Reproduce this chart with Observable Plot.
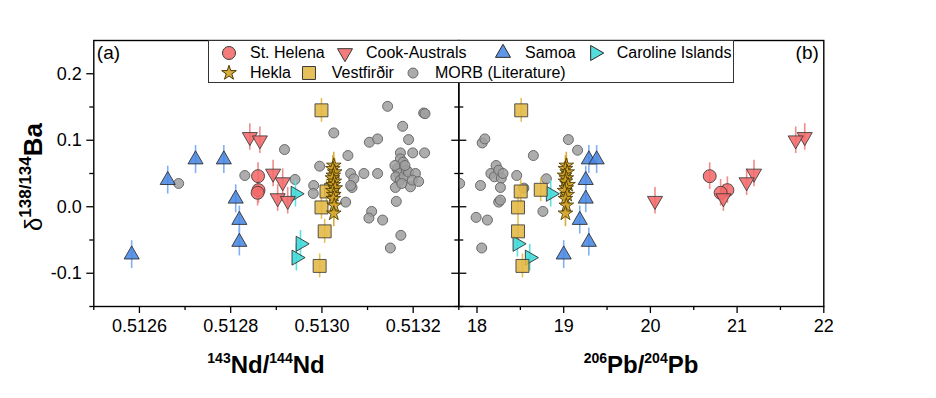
<!DOCTYPE html>
<html><head><meta charset="utf-8">
<script src="https://cdn.jsdelivr.net/npm/d3@7"></script>
<script src="https://cdn.jsdelivr.net/npm/@observablehq/plot@0.6"></script>
<style>
html,body{margin:0;padding:0;background:#fff;}
#wrap{position:relative;width:936px;height:398px;overflow:hidden;font-family:Arial,"Liberation Sans",sans-serif;color:#000;}
.abs{position:absolute;white-space:nowrap;}
.xt{font-weight:bold;font-size:24px;line-height:1;transform:translateX(-50%);}
.xt sup{font-size:14px;vertical-align:baseline;position:relative;top:-10px;}
.yt{line-height:1;transform:translate(-50%,-50%) rotate(-90deg);}
.yt .d{font-size:24px;}
.yt sup{font-size:17px;font-weight:bold;vertical-align:baseline;position:relative;top:-11px;}
.yt .b{font-size:26px;font-weight:bold;}
#legend{position:absolute;left:207.5px;top:39.5px;width:526px;height:43px;border:1px solid #333;background:#fff;box-sizing:border-box;}
.li{position:absolute;font-size:16px;line-height:20px;white-space:nowrap;}
.ls{position:absolute;overflow:visible;}
</style></head><body><div id="wrap"></div>
<script>
// ---------- data ----------
const yMajorTicks = [-0.1, 0, 0.1, 0.2];
const yMinorTicks = [-0.15, -0.05, 0.05, 0.15];
const ndMajorTicks = [0.5126, 0.5128, 0.5130, 0.5132];
const ndMinorTicks = [0.5125, 0.5127, 0.5129, 0.5131, 0.5133];
const pbMajorTicks = [18, 19, 20, 21, 22];
const pbMinorTicks = [18.5, 19.5, 20.5, 21.5];
const panelLabels = ["(a)", "(b)"];
const seriesNames = ["St. Helena", "Cook-Australs", "Samoa", "Caroline Islands", "Hekla", "Vestfirðir", "MORB (Literature)"];

const stHelenaBa = [0.046, 0.025, 0.021];
const stHelenaNd = [0.512860, 0.512861, 0.512859];
const stHelenaPb = [20.684, 20.888, 20.810];

const cookBa = [0.105, 0.100, 0.050, 0.037, 0.013, 0.009];
const cookNd = [0.512842, 0.512864, 0.512893, 0.512914, 0.512903, 0.512925];
const cookPb = [21.780, 21.676, 21.195, 21.110, 20.842, 20.053];

const samoaBa = [0.071, 0.071, 0.040, 0.012, -0.020, -0.053, -0.072];
const samoaNd = [0.512723, 0.512785, 0.512662, 0.512811, 0.512819, 0.512819, 0.512583];
const samoaPb = [19.290, 19.380, 19.254, 19.254, 19.185, 19.290, 19.000];

const carolineBa = [0.0195, -0.0557, -0.0765];
const carolineNd = [0.512942, 0.512953, 0.512944];
const carolinePb = [18.850, 18.466, 18.608];

const vestBa = [0.145, 0.0255, 0.023, -0.001, -0.037, -0.089];
const vestNd = [0.512999, 0.513020, 0.513010, 0.512999, 0.513006, 0.512995];
const vestPb = [18.510, 18.735, 18.504, 18.473, 18.473, 18.524];

const heklaBa = [0.062, 0.057, 0.052, 0.047, 0.043, 0.038, 0.033, 0.028, 0.024, 0.018, 0.012, 0.002, -0.010];
const heklaNd = [0.513026, 0.513024, 0.513028, 0.513025, 0.513023, 0.513027, 0.513025, 0.513029, 0.513024, 0.513026, 0.513025, 0.513027, 0.513026];
const heklaPb = [19.03, 19.02, 19.04, 19.01, 19.03, 19.02, 19.05, 19.03, 19.01, 19.04, 19.02, 19.03, 19.02];

const morbNd = [0.512686,0.512831,0.512918,0.512941,0.512982,0.512981,0.512995,0.513026,0.513052,0.513057,0.513063,0.513070,0.513066,0.513063,0.513092,0.513104,0.513122,0.513122,0.513109,0.513103,0.513133,0.513144,0.513150,0.513161,0.513163,0.513173,0.513172,0.513177,0.513190,0.513199,0.513225,0.513223,0.513226,0.513172,0.513178,0.513165,0.513168,0.513162,0.513172,0.513180,0.513185,0.513190,0.513205,0.513194,0.513175,0.513160,0.513182,0.513198,0.513212];
const morbNdBa = [0.035,0.047,0.086,0.041,0.032,0.020,0.061,0.111,0.007,0.077,0.050,0.042,0.029,0.032,0.050,0.097,0.102,0.050,-0.007,-0.017,-0.020,0.151,-0.062,0.029,0.008,-0.043,0.081,0.121,0.101,0.081,0.081,0.141,0.140,0.072,0.067,0.057,0.050,0.045,0.040,0.046,0.055,0.052,0.050,0.030,0.035,0.062,0.062,0.040,0.038];
const morbPb = [17.80,18.04,18.06,18.09,17.99,18.12,18.054,18.16,18.20,18.22,18.25,18.28,18.30,18.27,18.25,18.27,18.458,18.54,18.65,18.76,18.80,19.054,19.16];
const morbPbBa = [0.035,0.032,0.096,0.102,-0.016,-0.020,-0.062,0.050,0.045,0.062,0.055,0.043,0.050,0.029,0.007,0.010,0.047,0.028,0.077,-0.007,0.042,0.101,0.085];

const errStHelena = 0.02, errCook = 0.02, errSamoa = 0.021, errCaroline = 0.02, errVest = 0.018, errHekla = 0.02;

// ---------- symbols ----------
const S3 = Math.sqrt(3);
const triDown = {draw(ctx, size){ const y = -Math.sqrt(size/(S3*3)); ctx.moveTo(0,-y*2); ctx.lineTo(-S3*y, y); ctx.lineTo(S3*y, y); ctx.closePath(); }};
const triRight = {draw(ctx, size){ const a = Math.sqrt(size/(S3*3)); ctx.moveTo(2*a,0); ctx.lineTo(-a,-S3*a); ctx.lineTo(-a,S3*a); ctx.closePath(); }};

const series = [
  {name: seriesNames[0], ba: stHelenaBa, nd: stHelenaNd, pb: stHelenaPb, err: errStHelena, symbol: d3.symbolCircle, r: 6.5, fill: "#f26a6a", bar: "#f28c8c", stroke: "#3a3a3a"},
  {name: seriesNames[1], ba: cookBa, nd: cookNd, pb: cookPb, err: errCook, symbol: triDown, r: 5.6, fill: "#f26a6a", bar: "#f28c8c", stroke: "#3a3a3a"},
  {name: seriesNames[2], ba: samoaBa, nd: samoaNd, pb: samoaPb, err: errSamoa, symbol: d3.symbolTriangle, r: 5.6, fill: "#4a88e2", bar: "#80b0f2", stroke: "#2a2a2a"},
  {name: seriesNames[3], ba: carolineBa, nd: carolineNd, pb: carolinePb, err: errCaroline, symbol: triRight, r: 5.6, fill: "#3dd8d8", bar: "#5ce0e0", stroke: "#2a2a2a"},
  {name: seriesNames[5], ba: vestBa, nd: vestNd, pb: vestPb, err: errVest, symbol: d3.symbolSquare, r: 7.3, fill: "#e2b743", bar: "#e8c050", stroke: "#3a3a3a"},
  {name: seriesNames[4], ba: heklaBa, nd: heklaNd, pb: heklaPb, err: errHekla, symbol: d3.symbolStar, r: 4.6, fill: "#d4a326", bar: "#d9ad35", stroke: "#4a3800"}
];
function rows(s){ return s.ba.map((b,i)=>({ba:b, nd:s.nd[i], pb:s.pb[i]})); }
const morbNdRows = morbNd.map((x,i)=>({nd:x, ba:morbNdBa[i]}));
const morbPbRows = morbPb.map((x,i)=>({pb:x, ba:morbPbBa[i]}));

const blank = () => "";
function panel({xKey, domain, mL, mR, xMaj, xMin, xFmt, isLeft, label, morbRows}) {
  const marks = [];
  if (isLeft) {
    marks.push(Plot.axisY(yMajorTicks, {anchor:"left", tickSize:7, tickPadding:5, fontSize:18, tickFormat: d=>d.toFixed(1), label:null, strokeWidth:1.3}));
    marks.push(Plot.axisY(yMinorTicks, {anchor:"left", tickSize:4, tickFormat: blank, label:null, strokeWidth:1.3}));
    marks.push(Plot.axisY(yMajorTicks, {anchor:"right", tickSize:7, tickFormat: blank, label:null, strokeWidth:1.3}));
    marks.push(Plot.axisY(yMinorTicks, {anchor:"right", tickSize:4, tickFormat: blank, label:null, strokeWidth:1.3}));
  } else {
    marks.push(Plot.axisY(yMajorTicks, {anchor:"left", tickSize:7, tickFormat: blank, label:null, strokeWidth:1.3}));
    marks.push(Plot.axisY(yMinorTicks, {anchor:"left", tickSize:4, tickFormat: blank, label:null, strokeWidth:1.3}));
  }
  marks.push(Plot.axisX(xMaj, {anchor:"bottom", tickSize:7, tickPadding:6, fontSize:18, tickFormat:xFmt, label:null, strokeWidth:1.3}));
  marks.push(Plot.axisX(xMin, {anchor:"bottom", tickSize:4, tickFormat: blank, label:null, strokeWidth:1.3}));
  marks.push(Plot.dot(morbRows, {x:xKey, y:"ba", r:5, fill:"#9f9f9f", fillOpacity:0.85, stroke:"#6a6a6a", strokeWidth:1, clip:true}));
  for (const s of series) {
    marks.push(Plot.ruleX(rows(s), {x:xKey, y1: d=>d.ba - s.err, y2: d=>d.ba + s.err, stroke:s.bar, strokeWidth:1.6}));
  }
  const order = [2,3,0,1,4,5];
  for (const k of order) {
    const s = series[k];
    marks.push(Plot.dot(rows(s), {x:xKey, y:"ba", r:s.r, symbol:s.symbol, fill:s.fill, fillOpacity:0.88, stroke:s.stroke, strokeWidth:1, strokeOpacity:0.85}));
  }
  marks.push(Plot.frame({stroke:"#000", strokeWidth:1.4}));
  marks.push(Plot.text([label], {frameAnchor: isLeft ? "top-left" : "top-right", dx: isLeft ? 3 : -5, dy: 5, lineAnchor:"top", fontSize:19, text: d=>d}));
  return Plot.plot({
    width: 936, height: 398,
    marginTop: 40, marginBottom: 92, marginLeft: mL, marginRight: mR,
    x: {domain}, y: {domain: [-0.15, 0.25]},
    style: "position:absolute;left:0;top:0;background:transparent;overflow:visible;font-family:Arial,'Liberation Sans',sans-serif;color:#000;",
    marks
  });
}

const wrap = document.getElementById("wrap");
wrap.appendChild(panel({xKey:"nd", domain:[0.5125, 0.5133], mL:93.3, mR:936-458.3, xMaj:ndMajorTicks, xMin:ndMinorTicks, xFmt:d=>d.toFixed(4), isLeft:true, label:panelLabels[0], morbRows:morbNdRows}));
wrap.appendChild(panel({xKey:"pb", domain:[17.79, 22], mL:458.3, mR:936-823.3, xMaj:pbMajorTicks, xMin:pbMinorTicks, xFmt:d=>String(d), isLeft:false, label:panelLabels[1], morbRows:morbPbRows}));

// ---------- legend ----------
const legend = document.createElement("div");
legend.id = "legend";
wrap.appendChild(legend);
const legendItems = [
  {s: series[0], cx: 229, cy: 52.7, tx: 250},
  {s: series[1], cx: 345, cy: 52.7, tx: 366},
  {s: series[2], cx: 502.7, cy: 52.7, tx: 525},
  {s: series[3], cx: 595, cy: 52.7, tx: 616.7},
  {s: series[5], cx: 229, cy: 72.7, tx: 250},
  {s: series[4], cx: 309, cy: 72.7, tx: 331.7},
  {s: {name: seriesNames[6], symbol: d3.symbolCircle, r:5, fill:"#9f9f9f", stroke:"#6a6a6a"}, cx: 413, cy: 72.7, tx: 435}
];
for (const it of legendItems) {
  const path = d3.symbol(it.s.symbol, Math.PI * it.s.r * it.s.r)();
  const svg = document.createElementNS("http://www.w3.org/2000/svg", "svg");
  svg.setAttribute("class", "ls");
  svg.setAttribute("width", 24); svg.setAttribute("height", 24);
  svg.style.left = (it.cx - 12) + "px"; svg.style.top = (it.cy - 12) + "px";
  svg.innerHTML = `<path transform="translate(12,12)" d="${path}" fill="${it.s.fill}" fill-opacity="0.88" stroke="${it.s.stroke}" stroke-width="1"/>`;
  wrap.appendChild(svg);
  const t = document.createElement("div");
  t.className = "li";
  t.style.left = it.tx + "px"; t.style.top = (it.cy - 10) + "px";
  t.textContent = it.s.name;
  wrap.appendChild(t);
}

// ---------- axis titles ----------
const xt1 = document.createElement("div");
xt1.className = "abs xt"; xt1.style.left = "266px"; xt1.style.top = "353px";
xt1.innerHTML = "<sup>143</sup>Nd/<sup>144</sup>Nd";
wrap.appendChild(xt1);
const xt2 = document.createElement("div");
xt2.className = "abs xt"; xt2.style.left = "641px"; xt2.style.top = "353px";
xt2.innerHTML = "<sup>206</sup>Pb/<sup>204</sup>Pb";
wrap.appendChild(xt2);
const yt = document.createElement("div");
yt.className = "abs yt"; yt.style.left = "33px"; yt.style.top = "177px";
yt.innerHTML = "<span class='d'>δ</span><sup>138/134</sup><span class='b'>Ba</span>";
wrap.appendChild(yt);
</script></body></html>
